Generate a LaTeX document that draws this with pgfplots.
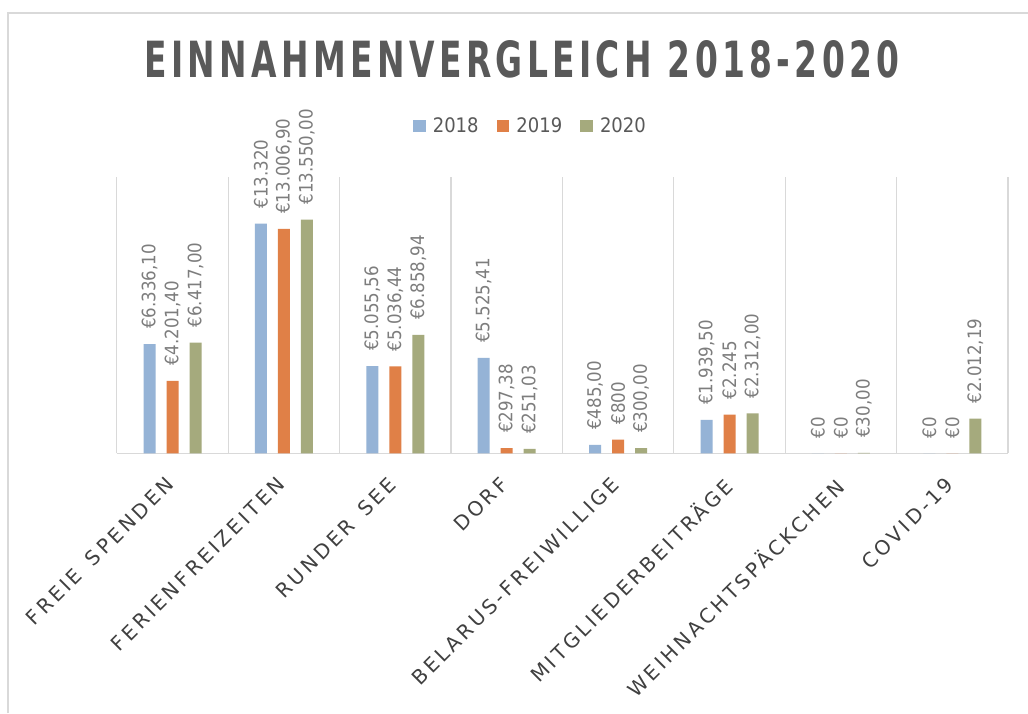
\documentclass[border=0pt]{standalone}
\usepackage{fontspec}
\setmainfont{DejaVu Sans Condensed}[BoldFont={DejaVu Sans Condensed Bold}]
\newfontfamily\catfont[LetterSpace=16, WordSpace=1.5]{DejaVu Sans}
\newfontfamily\titlefont[LetterSpace=12]{DejaVu Sans Condensed Bold}
\usepackage{pgfplots}
\usepackage{pgfplotstable}
\pgfplotsset{compat=1.18}
\definecolor{c18}{RGB}{149,179,214}
\definecolor{c19}{RGB}{224,128,71}
\definecolor{c20}{RGB}{165,170,125}
\definecolor{gridc}{RGB}{217,217,217}
\definecolor{lblc}{RGB}{125,125,125}
\definecolor{titlec}{RGB}{89,89,89}
\definecolor{catc}{RGB}{64,64,64}
\pgfplotstableread{
x v18 l18 v19 l19 v20 l20
0 6336.10 €6.336,10 4201.40 €4.201,40 6417.00 €6.417,00
1 13320.00 €13.320 13006.90 €13.006,90 13550.00 €13.550,00
2 5055.56 €5.055,56 5036.44 €5.036,44 6858.94 €6.858,94
3 5525.41 €5.525,41 297.38 €297,38 251.03 €251,03
4 485.00 €485,00 800.00 €800 300.00 €300,00
5 1939.50 €1.939,50 2245.00 €2.245 2312.00 €2.312,00
6 0 €0 0 €0 30.00 €30,00
7 0 €0 0 €0 2012.19 €2.012,19
}\datatable
\begin{document}
\begin{tikzpicture}
\useasboundingbox (0,0) rectangle (1028pt,713pt);
\fill[white] (0,0) rectangle (1028pt,713pt);
\draw[gridc, line width=1.5pt] (8pt,0pt) -- (8pt,700pt) -- (1028pt,700pt);
\node[anchor=base, text=titlec, inner sep=0pt] at (522pt,635pt)
  {\resizebox{755pt}{37pt}{\titlefont EINNAHMENVERGLEICH 2018-2020}};
\begin{axis}[
  at={(116.8pt,259.7pt)}, anchor=south west,
  scale only axis, width=891.2pt, height=276pt,
  xmin=-0.5, xmax=7.5, ymin=0, ymax=16000,
  clip=false,
  axis y line=none,
  axis x line*=bottom,
  x axis line style={gridc, line width=1.5pt, -},
  ybar=11pt, bar width=12pt,
  xtick={0,...,7},
  xticklabels={FREIE SPENDEN, FERIENFREIZEITEN, RUNDER SEE, DORF, BELARUS-FREIWILLIGE, MITGLIEDERBEITRÄGE, WEIHNACHTSPÄCKCHEN, COVID-19},
  major tick length=0pt, minor tick length=0pt,
  minor xtick={-0.5,0.5,...,7.5},
  xminorgrids=true,
  minor grid style={gridc, line width=1.2pt},
  xticklabel style={xshift=-8pt, yshift=-22pt, rotate=45, anchor=north east, inner sep=0pt,
    font=\catfont\fontsize{20}{20}\selectfont, text=catc},
  point meta=explicit symbolic,
  nodes near coords={\pgfplotspointmeta},
  every node near coord/.append style={rotate=90, anchor=west, inner xsep=15pt, inner ysep=0pt,
    font=\fontsize{18.5}{18.5}\selectfont, text=lblc},
  legend columns=3,
  legend style={at={(0.463,1.186)}, anchor=center, draw=none, fill=none,
    font=\fontsize{20}{20}\selectfont, text=titlec,
    /tikz/every odd column/.append style={column sep=7pt},
    /tikz/every even column/.append style={column sep=18pt},
    nodes={inner sep=0pt}},
  legend image code/.code={\fill[#1] (0pt,-6.5pt) rectangle (12.8pt,6.3pt);},
]
\addplot[fill=c18, draw=none] table[x=x, y=v18, meta=l18] \datatable;
\addplot[fill=c19, draw=none] table[x=x, y=v19, meta=l19] \datatable;
\addplot[fill=c20, draw=none] table[x=x, y=v20, meta=l20] \datatable;
\legend{2018,2019,2020}
\end{axis}
\end{tikzpicture}
\end{document}
